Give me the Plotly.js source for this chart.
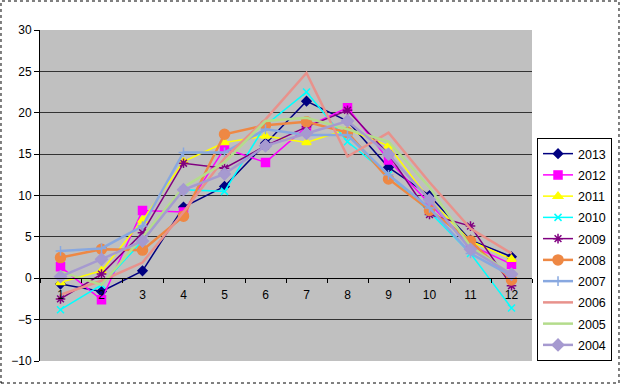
<!DOCTYPE html>
<html>
<head>
<meta charset="utf-8">
<script src="https://cdn.plot.ly/plotly-3.0.1.min.js"></script>
<style>html,body{margin:0;padding:0;background:#fff;}#chart{width:621px;height:385px;}</style>
</head>
<body>
<div id="chart"></div>
<script>
const months = [1,2,3,4,5,6,7,8,9,10,11,12];
const monthLabels = ['1','2','3','4','5','6','7','8','9','10','11','12'];
const years = ['2013','2012','2011','2010','2009','2008','2007','2006','2005','2004'];

const t2013 = [-0.7,-1.6,0.9,8.6,11.1,16.3,21.4,19.0,13.4,10.0,4.6,2.6];
const t2012 = [1.4,-2.6,8.2,8.0,15.7,14.0,18.3,20.6,14.3,9.0,4.0,1.7];
const t2011 = [-0.5,0.9,7.0,14.1,16.4,17.2,16.4,18.0,16.0,9.5,4.5,2.3];
const t2010 = [-3.8,-0.8,4.5,10.7,10.5,18.5,22.5,16.5,12.5,8.0,3.0,-3.6];
const t2009 = [-2.5,0.5,5.5,13.9,13.3,16.0,18.3,20.3,15.0,7.7,6.3,-0.9];
const t2008 = [2.5,3.5,3.4,7.5,17.4,18.5,18.9,17.6,12.0,8.2,4.5,-0.2];
const t2007 = [3.3,3.6,6.3,15.2,15.2,18.0,17.3,17.3,12.5,8.5,3.0,0.3];
const t2006 = [-2.0,-0.3,1.9,8.0,14.5,19.2,24.8,14.7,17.6,11.6,6.0,3.0];
const t2005 = [0.8,-0.8,5.0,11.0,14.0,19.0,19.4,18.0,16.5,11.0,3.8,0.5];
const t2004 = [0.2,2.3,4.5,10.7,12.6,16.0,17.5,19.0,15.0,9.5,3.5,0.5];

const seriesData = [t2013,t2012,t2011,t2010,t2009,t2008,t2007,t2006,t2005,t2004];
const styles = [
  {color:'#000080', width:1.5, symbol:'diamond', size:7},
  {color:'#FF00FF', width:1.5, symbol:'square', size:8},
  {color:'#FFFF00', width:1.5, symbol:'triangle-up', size:8},
  {color:'#00FFFF', width:1.5, symbol:'x-thin-open', size:7},
  {color:'#800080', width:1.5, symbol:'asterisk-open', size:8},
  {color:'#EE8844', width:2.5, symbol:'circle', size:10},
  {color:'#88A8E0', width:2.5, symbol:'cross-thin-open', size:7},
  {color:'#E8928C', width:2.5, symbol:'none', size:0},
  {color:'#B4DC8C', width:2.5, symbol:'none', size:0},
  {color:'#A69AD0', width:2.5, symbol:'diamond', size:9}
];

const traces = years.map((y,i)=>{
  const s = styles[i];
  const tr = {
    x: months, y: seriesData[i], name: y, type:'scatter', legendgroup: 'g'+y,
    mode: s.symbol==='none' ? 'lines' : 'lines+markers',
    line:{color:s.color, width:s.width},
  };
  if (s.symbol!=='none') tr.marker = {symbol:s.symbol, size:s.size, color:s.color, line:{color:s.color, width:1.5}};
  return tr;
});

const layout = {
  width:621, height:385,
  margin:{l:40, r:89, t:30, b:24, autoexpand:false},
  paper_bgcolor:'#ffffff',
  plot_bgcolor:'#C0C0C0',
  font:{family:'"Liberation Sans", Arial, sans-serif', size:12, color:'#000'},
  showlegend:true,
  legend:{x:1.0102, y:0.6737, xanchor:'left', yanchor:'top', bgcolor:'#ffffff', bordercolor:'#000000', borderwidth:1,
          font:{size:12.5}, traceorder:'grouped', tracegroupgap:2},
  xaxis:{
    range:[0.5,12.5], tickvals:months, ticktext:monthLabels, ticks:'', showgrid:false, zeroline:false,
    anchor:'free', position:0.25, showline:true, linecolor:'#000', linewidth:1, ticklabelstandoff:5,
    minor:{ticks:'outside', tick0:0.5, dtick:1, ticklen:4, tickcolor:'#000', showgrid:false},
    tickfont:{size:12}
  },
  yaxis:{
    range:[-10,30], dtick:5, tick0:-10, ticks:'outside', ticklen:5, tickcolor:'#000',
    showline:true, linecolor:'#000', linewidth:1, showgrid:true, gridcolor:'#333333', gridwidth:1,
    zeroline:false, tickfont:{size:12}
  },
  shapes:[
    {type:'rect', xref:'paper', yref:'paper', x0:-0.0793, x1:1.1768, y0:-0.0665, y1:1.0876,
     line:{color:'#000', width:1, dash:'dot'}, fillcolor:'rgba(0,0,0,0)', layer:'below'}
  ]
};

Plotly.newPlot('chart', traces, layout, {displayModeBar:false, staticPlot:true});
</script>
</body>
</html>
